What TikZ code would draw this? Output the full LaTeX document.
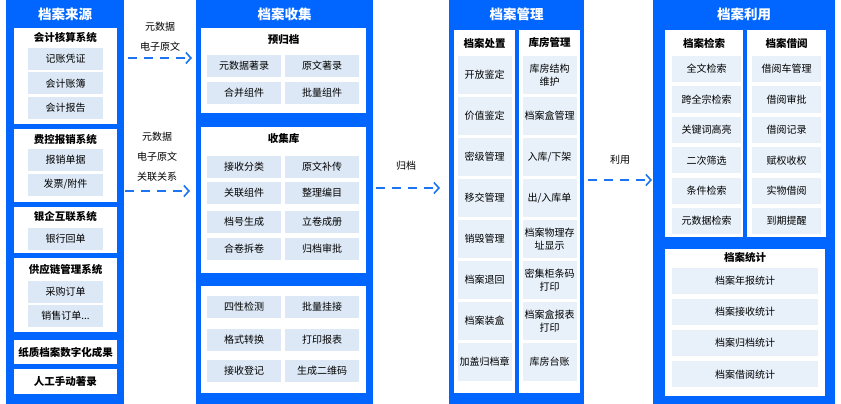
\documentclass[tikz,border=0pt]{standalone}
\usepackage{fontspec}
\setmainfont{Noto Sans CJK SC}
\usetikzlibrary{arrows.meta}
\definecolor{dablue}{HTML}{0066FF}
\definecolor{cellA}{HTML}{DCE8F5}
\definecolor{cellB}{HTML}{E8F1FA}
\definecolor{flowblue}{HTML}{1C74F2}

\tikzset{
  panel/.style={fill=dablue, inner sep=0pt, minimum width=#1, minimum height=404pt},
  ptitle/.style={text=white, font=\fontsize{13.5}{15}\selectfont\bfseries},
  grp/.style 2 args={fill=white, inner sep=0pt, minimum width=#1, minimum height=#2},
  gtitle/.style={font=\fontsize{10.5}{12}\selectfont\bfseries},
  cell/.style 2 args={fill=cellA, inner sep=0pt, minimum width=#1, minimum height=#2,
    align=center, font=\fontsize{10}{13}\selectfont},
  cellb/.style 2 args={cell={#1}{#2}, fill=cellB},
  flow/.style={draw=flowblue, line width=2pt, dash pattern=on 9pt off 7pt,
    -{Straight Barb[length=5pt, width=11pt, line width=1.6pt]}},
  flowlabel/.style={align=center, font=\fontsize{10}{20}\selectfont}
}

\begin{document}
\begin{tikzpicture}[x=1pt, y=-1pt]
  \useasboundingbox (0,0) rectangle (841,404);

  % four columns
  \node[panel=118pt] (src) at (65,202) {};
  \node[panel=177pt] (col) at (284.5,202) {};
  \node[panel=135pt] (mgt) at (516.5,202) {};
  \node[panel=182pt] (use) at (744,202) {};
  \node[ptitle] (srcT) at (65,14) {档案来源};
  \node[ptitle] (colT) at (284.5,14) {档案收集};
  \node[ptitle] (mgtT) at (516.5,14) {档案管理};
  \node[ptitle] (useT) at (744,14) {档案利用};

  % 档案来源
  \foreach \y/\h/\ty/\t [count=\i] in {76/96/38/会计核算系统, 165.5/73/139/费控报销系统,
      230/46/217/银企互联系统, 295/74/269/供应链管理系统} {
    \node[grp={103pt}{\h pt}] (sg\i) at (65.5,\y) {};
    \node[gtitle] (sg\i T) at (65.5,\ty) {\t};
  }
  \node[grp={103pt}{24pt}, gtitle] (sg5) at (65.5,352) {纸质档案数字化成果};
  \node[grp={103pt}{25pt}, gtitle] (sg6) at (65.5,381.5) {人工手动著录};
  \foreach \y/\t [count=\i] in {59/记账凭证, 83.5/会计账簿, 107.5/会计报告, 159.5/报销单据,
      184.5/{发票/附件}, 238.5/银行回单, 291.5/采购订单} {
    \node[cell={75pt}{22pt}] (s\i) at (65.5,\y) {\t};
  }
  \node[cell={75pt}{22pt}] (s8) at (65.5,315.5) {销售订单...};

  % 档案收集
  \node[grp={165pt}{85pt}] (cg1) at (283.5,70.5) {};
  \node[grp={165pt}{146pt}] (cg2) at (283.5,200) {};
  \node[grp={165pt}{107pt}] (cg3) at (283.5,339.5) {};
  \node[gtitle] (cg1T) at (283.5,40) {预归档};
  \node[gtitle] (cg2T) at (283.5,138) {收集库};
  \foreach \y/\a/\b [count=\i] in {66/元数据著录/原文著录, 93/合并组件/批量组件,
      167/接收分类/原文补传, 193/关联组件/整理编目, 221.5/档号生成/立卷成册,
      248.5/合卷拆卷/归档审批, 307/四性检测/批量挂接, 340/格式转换/打印报表,
      371/接收登记/生成二维码} {
    \node[cell={74pt}{22pt}] (cl\i) at (244,\y) {\a};
    \node[cell={74pt}{22pt}] (cr\i) at (322,\y) {\b};
  }

  % 档案管理
  \node[grp={61pt}{363pt}] (mg1) at (484.5,211.5) {};
  \node[grp={61pt}{363pt}] (mg2) at (549.5,211.5) {};
  \node[gtitle] (mg1T) at (484.5,43) {档案处置};
  \node[gtitle] (mg2T) at (549.5,43) {库房管理};
  \foreach \a/\b [count=\i] in {开放鉴定/{库房结构\\维护}, 价值鉴定/档案盒管理,
      密级管理/{入库/下架}, 移交管理/{出/入库单}, 销毁管理/{档案物理存\\址显示},
      档案退回/{密集柜条码\\打印}, 档案装盒/{档案盒报表\\打印}, 加盖归档章/库房台账} {
    \node[cellb={54pt}{38pt}] (ml\i) at (484.5,34+41*\i) {\a};
    \node[cellb={54pt}{38pt}] (mr\i) at (549.5,34+41*\i) {\b};
  }

  % 档案利用
  \node[grp={78pt}{207pt}] (ug1) at (704,133.5) {};
  \node[grp={79pt}{207pt}] (ug2) at (786.5,133.5) {};
  \node[grp={160pt}{147pt}] (ug3) at (745,322.5) {};
  \node[gtitle] (ug1T) at (704,43) {档案检索};
  \node[gtitle] (ug2T) at (786.5,43) {档案借阅};
  \node[gtitle] (ug3T) at (745,257) {档案统计};
  \foreach \a/\b [count=\i] in {全文检索/借阅车管理, 跨全宗检索/借阅审批, 关键词高亮/借阅记录,
      二次筛选/赋权收权, 条件检索/实物借阅, 元数据检索/到期提醒} {
    \node[cellb={69pt}{26pt}] (ul\i) at (706.5,38.7+30.4*\i) {\a};
    \node[cellb={69pt}{26pt}] (ur\i) at (786.5,38.7+30.4*\i) {\b};
  }
  \foreach \t [count=\i] in {档案年报统计, 档案接收统计, 档案归档统计, 档案借阅统计} {
    \node[cellb={146pt}{26pt}] (us\i) at (745,249.5+31.2*\i) {\t};
  }

  % flows
  \coordinate (f1s) at (128,58);  \coordinate (f1e) at (192,58);
  \coordinate (f2s) at (125,191); \coordinate (f2e) at (190,191);
  \coordinate (f3s) at (376,188); \coordinate (f3e) at (440,188);
  \coordinate (f4s) at (588,180); \coordinate (f4e) at (652,180);
  \draw[flow] (f1s) -- (f1e);
  \draw[flow] (f2s) -- (f2e);
  \draw[flow] (f3s) -- (f3e);
  \draw[flow] (f4s) -- (f4e);
  \node[flowlabel] (f1L) at (160,36.5) {元数据\\电子原文};
  \node[flowlabel] (f2L) at (157,157) {元数据\\电子原文\\关联关系};
  \node[flowlabel] (f3L) at (406,166) {归档};
  \node[flowlabel] (f4L) at (620,160) {利用};
\end{tikzpicture}
\end{document}
